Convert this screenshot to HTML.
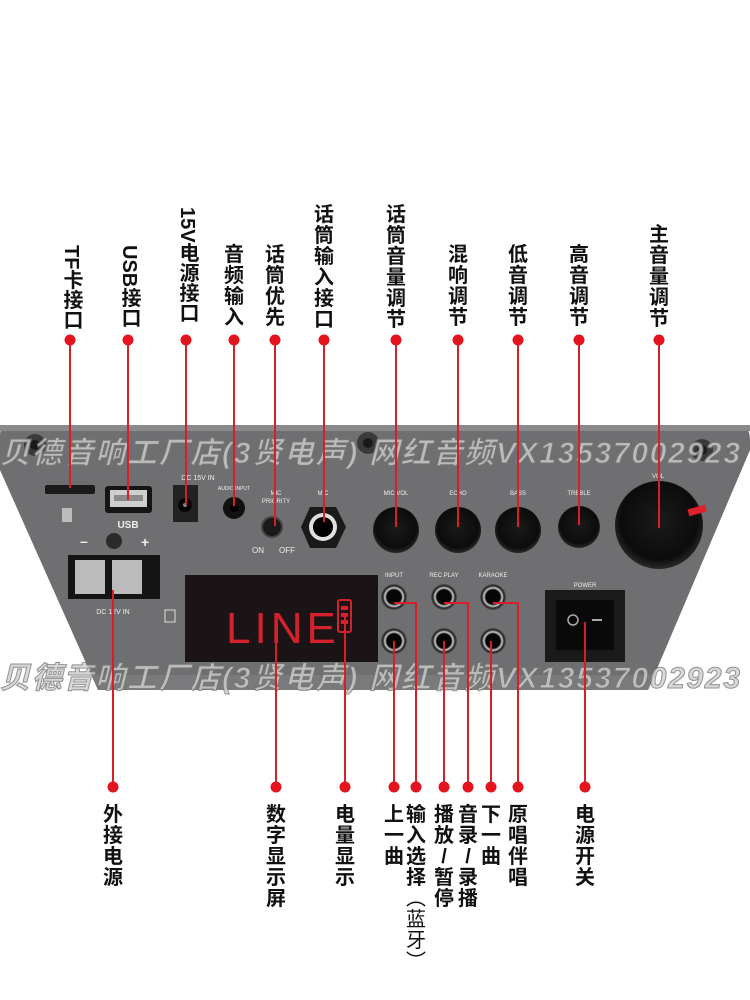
<!DOCTYPE html>
<html><head><meta charset="utf-8"><style>
html,body{margin:0;padding:0;background:#fff;width:750px;height:1000px;overflow:hidden}
.v{position:absolute;font-family:"Liberation Sans","Noto Sans CJK SC",sans-serif;font-weight:bold;font-size:20px;line-height:21px;color:#111;width:22px;text-align:center;writing-mode:vertical-rl}
.h{position:absolute;font-family:"Liberation Sans","Noto Sans CJK SC",sans-serif;font-weight:bold;font-size:20px;line-height:21px;color:#111;width:24px;text-align:center}
</style></head><body>
<svg width="750" height="1000" style="position:absolute;left:0;top:0">
<defs>
<radialGradient id="kn" cx="50%" cy="45%" r="55%"><stop offset="0" stop-color="#1a1a1a"/><stop offset="0.8" stop-color="#0c0c0c"/><stop offset="1" stop-color="#2a2a2a"/></radialGradient>
<radialGradient id="bt" cx="50%" cy="50%" r="50%"><stop offset="0.55" stop-color="#050505"/><stop offset="0.7" stop-color="#cfcfcf"/><stop offset="0.85" stop-color="#222"/><stop offset="1" stop-color="#555"/></radialGradient>
</defs>
<path d="M10,425 L740,425 Q750,426 750,440 L750,450 L648,690 L98,690 L0,470 L0,435 Q0,425 10,425 Z" fill="#6f6f71"/>
<rect x="0" y="425" width="750" height="6" fill="#8a8a8c"/>
<path d="M98,690 L648,690 L655,675 L92,675 Z" fill="#7a7a7c"/>
<circle cx="35" cy="445" r="11" fill="#3a3a3a"/><circle cx="35" cy="445" r="5" fill="#1a1a1a"/>
<circle cx="368" cy="443" r="11" fill="#3a3a3a"/><circle cx="368" cy="443" r="5" fill="#1a1a1a"/>
<circle cx="702" cy="450" r="11" fill="#3a3a3a"/><circle cx="702" cy="450" r="5" fill="#1a1a1a"/>
<rect x="45" y="485" width="50" height="9" rx="2" fill="#1a1a1a"/>
<rect x="105" y="486" width="47" height="27" rx="3" fill="#151515"/>
<rect x="110" y="490" width="37" height="17" fill="#cfcfcf"/><rect x="114" y="495" width="29" height="6" fill="#8a8a8a"/>
<text x="128" y="528" font-size="10" fill="#eee" text-anchor="middle" font-family="Liberation Sans" font-weight="bold">USB</text>
<rect x="62" y="508" width="10" height="14" fill="#ddd" opacity="0.7"/>
<rect x="173" y="485" width="25" height="37" fill="#222"/><circle cx="185" cy="505" r="7" fill="#050505"/><circle cx="185" cy="505" r="2" fill="#888"/>
<text x="198" y="480" font-size="7" fill="#eee" text-anchor="middle" font-family="Liberation Sans">DC 15V IN</text>
<circle cx="234" cy="508" r="11" fill="#111"/><circle cx="234" cy="508" r="4" fill="#000"/>
<text x="234" y="490" font-size="5" fill="#eee" text-anchor="middle" font-family="Liberation Sans">AUDIO INPUT</text>
<circle cx="272" cy="527" r="10" fill="#1a1a1a" stroke="#444" stroke-width="2"/>
<text x="276" y="495" font-size="6" fill="#eee" text-anchor="middle" font-family="Liberation Sans">MIC</text>
<text x="276" y="503" font-size="6" fill="#eee" text-anchor="middle" font-family="Liberation Sans">PRIORITY</text>
<text x="258" y="553" font-size="8" fill="#eee" text-anchor="middle" font-family="Liberation Sans">ON</text>
<text x="287" y="553" font-size="8" fill="#eee" text-anchor="middle" font-family="Liberation Sans">OFF</text>
<polygon points="310,507 336,507 346,527 336,548 310,548 301,527" fill="#1a1a1a"/>
<circle cx="323" cy="527" r="14" fill="#e0e0e0"/><circle cx="323" cy="527" r="10" fill="#000"/>
<text x="323" y="495" font-size="6" fill="#eee" text-anchor="middle" font-family="Liberation Sans">MIC</text>
<g font-family="Liberation Sans" font-size="6" fill="#eee" text-anchor="middle">
<text x="396" y="495">MIC VOL</text><text x="458" y="495">ECHO</text><text x="518" y="495">BASS</text><text x="579" y="495">TREBLE</text><text x="658" y="478">VOL</text>
</g>
<circle cx="396" cy="530" r="23" fill="url(#kn)"/><circle cx="458" cy="530" r="23" fill="url(#kn)"/>
<circle cx="518" cy="530" r="23" fill="url(#kn)"/><circle cx="579" cy="527" r="21" fill="url(#kn)"/>
<circle cx="659" cy="525" r="44" fill="url(#kn)"/>
<rect x="688" y="507" width="18" height="7" fill="#e0202a" transform="rotate(-15 697 510)"/>
<circle cx="114" cy="541" r="8" fill="#2a2a2a"/>
<text x="80" y="546" font-size="14" fill="#eee" font-family="Liberation Sans" font-weight="bold">–</text>
<text x="141" y="547" font-size="14" fill="#eee" font-family="Liberation Sans" font-weight="bold">+</text>
<rect x="68" y="555" width="92" height="44" fill="#141414"/>
<rect x="75" y="560" width="30" height="34" fill="#bbb"/><rect x="112" y="560" width="30" height="34" fill="#bbb"/>
<text x="113" y="614" font-size="7" fill="#eee" text-anchor="middle" font-family="Liberation Sans">DC 12V IN</text>
<rect x="165" y="610" width="10" height="12" fill="none" stroke="#ddd" stroke-width="1"/>
<rect x="185" y="575" width="193" height="87" fill="#1b1416"/>
<text x="226" y="643" font-size="44" fill="#d3222c" font-family="Liberation Sans" letter-spacing="4">LINE</text>
<rect x="338" y="600" width="13" height="32" rx="2" fill="none" stroke="#d3222c" stroke-width="2"/>
<g fill="#d3222c"><rect x="341" y="606" width="7" height="4"/><rect x="341" y="613" width="7" height="4"/><rect x="341" y="620" width="7" height="4"/></g>
<g font-family="Liberation Sans" font-size="6" fill="#eee" text-anchor="middle">
<text x="394" y="577">INPUT</text><text x="444" y="577">REC PLAY</text><text x="493" y="577">KARAOKE</text><text x="585" y="587">POWER</text>
</g>
<circle cx="394" cy="597" r="13" fill="url(#bt)"/><circle cx="444" cy="597" r="13" fill="url(#bt)"/><circle cx="493" cy="597" r="13" fill="url(#bt)"/>
<circle cx="394" cy="641" r="13" fill="url(#bt)"/><circle cx="444" cy="641" r="13" fill="url(#bt)"/><circle cx="493" cy="641" r="13" fill="url(#bt)"/>
<rect x="545" y="590" width="80" height="72" fill="#1a1a1a"/><rect x="556" y="600" width="58" height="50" fill="#0a0a0a"/>
<circle cx="573" cy="620" r="5" fill="none" stroke="#aaa" stroke-width="1.5"/><rect x="592" y="619" width="10" height="2" fill="#aaa"/>
<g font-family="Liberation Sans,Noto Sans CJK SC,sans-serif" font-size="30" font-style="italic" font-weight="bold" fill="#cfcfcf" stroke="#777" stroke-width="1" opacity="0.8">
<text x="0" y="463" textLength="740">贝德音响工厂店(3贤电声) 网红音频VX13537002923</text>
<text x="0" y="688" textLength="740">贝德音响工厂店(3贤电声) 网红音频VX13537002923</text>
</g>
<g stroke="#d81e28" stroke-width="2" fill="none">
<line x1="70" y1="340" x2="70" y2="488"/><line x1="128" y1="340" x2="128" y2="500"/>
<line x1="186" y1="340" x2="186" y2="505"/><line x1="234" y1="340" x2="234" y2="506"/>
<line x1="275" y1="340" x2="275" y2="526"/><line x1="324" y1="340" x2="324" y2="522"/>
<line x1="396" y1="340" x2="396" y2="527"/><line x1="458" y1="340" x2="458" y2="527"/>
<line x1="518" y1="340" x2="518" y2="527"/><line x1="579" y1="340" x2="579" y2="525"/>
<line x1="659" y1="340" x2="659" y2="528"/>
<line x1="113" y1="590" x2="113" y2="787"/><line x1="276" y1="640" x2="276" y2="787"/>
<line x1="345" y1="615" x2="345" y2="787"/><line x1="394" y1="641" x2="394" y2="787"/>
<polyline points="394,603 416,603 416,787"/><line x1="444" y1="641" x2="444" y2="787"/>
<polyline points="444,603 468,603 468,787"/><line x1="491" y1="641" x2="491" y2="787"/>
<polyline points="493,603 518,603 518,787"/><line x1="585" y1="622" x2="585" y2="787"/>
</g>
<g fill="#e4141e">
<circle cx="70" cy="340" r="5.5"/><circle cx="128" cy="340" r="5.5"/><circle cx="186" cy="340" r="5.5"/><circle cx="234" cy="340" r="5.5"/><circle cx="275" cy="340" r="5.5"/><circle cx="324" cy="340" r="5.5"/><circle cx="396" cy="340" r="5.5"/><circle cx="458" cy="340" r="5.5"/><circle cx="518" cy="340" r="5.5"/><circle cx="579" cy="340" r="5.5"/><circle cx="659" cy="340" r="5.5"/>
<circle cx="113" cy="787" r="5.5"/><circle cx="276" cy="787" r="5.5"/><circle cx="345" cy="787" r="5.5"/><circle cx="394" cy="787" r="5.5"/><circle cx="416" cy="787" r="5.5"/><circle cx="444" cy="787" r="5.5"/><circle cx="468" cy="787" r="5.5"/><circle cx="491" cy="787" r="5.5"/><circle cx="518" cy="787" r="5.5"/><circle cx="585" cy="787" r="5.5"/>
</g>
</svg>
<div class="v" style="left:59px;top:245px">TF卡接口</div>
<div class="v" style="left:117px;top:245px">USB接口</div>
<div class="v" style="left:175px;top:207px">15V电源接口</div>
<div class="h" style="left:222px;top:245px">音<br>频<br>输<br>入</div>
<div class="h" style="left:263px;top:245px">话<br>筒<br>优<br>先</div>
<div class="h" style="left:312px;top:205px">话<br>筒<br>输<br>入<br>接<br>口</div>
<div class="h" style="left:384px;top:205px">话<br>筒<br>音<br>量<br>调<br>节</div>
<div class="h" style="left:446px;top:245px">混<br>响<br>调<br>节</div>
<div class="h" style="left:506px;top:245px">低<br>音<br>调<br>节</div>
<div class="h" style="left:567px;top:245px">高<br>音<br>调<br>节</div>
<div class="h" style="left:647px;top:225px">主<br>音<br>量<br>调<br>节</div>
<div class="h" style="left:101px;top:805px">外<br>接<br>电<br>源</div>
<div class="h" style="left:264px;top:805px">数<br>字<br>显<br>示<br>屏</div>
<div class="h" style="left:333px;top:805px">电<br>量<br>显<br>示</div>
<div class="h" style="left:382px;top:805px">上<br>一<br>曲</div>
<div class="h" style="left:404px;top:805px">输<br>入<br>选<br>择<br><span style="font-weight:normal">︵<br>蓝<br>牙<br>︶</span></div>
<div class="h" style="left:432px;top:805px">播<br>放<br>/<br>暂<br>停</div>
<div class="h" style="left:456px;top:805px">音<br>录<br>/<br>录<br>播</div>
<div class="h" style="left:479px;top:805px">下<br>一<br>曲</div>
<div class="h" style="left:506px;top:805px">原<br>唱<br>伴<br>唱</div>
<div class="h" style="left:573px;top:805px">电<br>源<br>开<br>关</div>
</body></html>
